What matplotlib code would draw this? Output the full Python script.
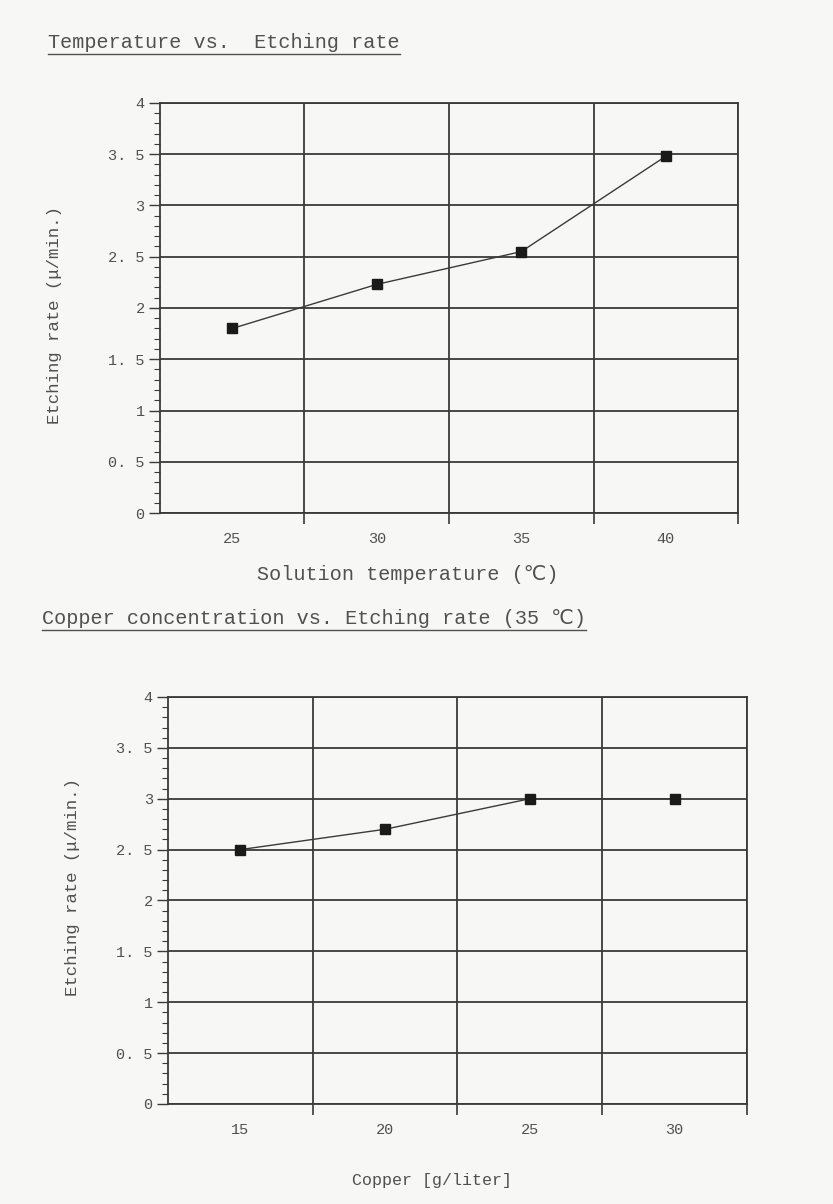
import matplotlib
matplotlib.use("Agg")
import matplotlib.pyplot as plt
from matplotlib.lines import Line2D
from matplotlib.ticker import MultipleLocator, FixedLocator, NullFormatter

# --- data ---
temp_labels = ["25", "30", "35", "40"]
temp_rate = [1.80, 2.23, 2.55, 3.48]

copper_labels = ["15", "20", "25", "30"]
copper_rate = [2.50, 2.70, 3.00, 3.00]

FONT = ["Liberation Mono", "DejaVu Sans Mono", "DejaVu Sans"]
INK = "#3a3a3a"
TEXT = "#505050"
PAPER = "#f7f7f5"

plt.rcParams["font.family"] = FONT


def style_axes(ax, labels, values, xlab_pad):
    x = list(range(len(labels)))
    ax.set_facecolor(PAPER)
    ax.plot(x, values, color=INK, lw=1.0, marker="s", markersize=7,
            markerfacecolor="#1a1a1a", markeredgecolor="#1a1a1a")
    ax.set_xlim(-0.5, len(labels) - 0.5)
    ax.set_ylim(0, 4)

    # category boundaries carry the vertical grid, labels sit in the middle
    ax.xaxis.set_major_locator(FixedLocator([i + 0.5 for i in x]))
    ax.xaxis.set_major_formatter(NullFormatter())
    ax.set_xticks(x, labels, minor=True)
    ax.tick_params(axis="x", which="major", direction="out", length=8,
                   width=1.2, color=INK)
    ax.tick_params(axis="x", which="minor", length=0, pad=xlab_pad,
                   labelsize=11, labelcolor=TEXT)

    ax.yaxis.set_minor_locator(MultipleLocator(0.1))
    ax.set_yticks([i * 0.5 for i in range(9)],
                  ["0", "0. 5", "1", "1. 5", "2", "2. 5", "3", "3. 5", "4"])
    ax.tick_params(axis="y", which="major", direction="out", length=8,
                   width=1.0, color=INK, labelsize=11, labelcolor=TEXT, pad=3)
    ax.tick_params(axis="y", which="minor", direction="out", length=4,
                   width=0.8, color=INK)

    ax.grid(True, which="major", color=INK, lw=1.3)
    ax.set_axisbelow(True)
    for s in ax.spines.values():
        s.set_color(INK)
        s.set_linewidth(1.3)


W, H = 833, 1204
fig = plt.figure(figsize=(8.33, 12.04), dpi=100, facecolor=PAPER)

ax1 = fig.add_axes([0.192, 0.5739, 0.694, 0.3406])
style_axes(ax1, temp_labels, temp_rate, xlab_pad=14)

ax2 = fig.add_axes([0.2017, 0.0831, 0.695, 0.338])
style_axes(ax2, copper_labels, copper_rate, xlab_pad=14)

# titles with an underline, like the typed sheet
titles = [
    ("Temperature vs.  Etching rate", 48, 42),
    ("Copper concentration vs. Etching rate (35 \u2103)", 42, 618),
]
title_texts = []
for txt, px, py in titles:
    t = fig.text(px / W, 1 - py / H, txt, fontsize=14.5, color=TEXT,
                 ha="left", va="center")
    title_texts.append(t)

fig.text(408 / W, 1 - 575 / H, "Solution temperature (\u2103)", fontsize=14.5,
         color=TEXT, ha="center", va="center")
fig.text(432 / W, 1 - 1180 / H, "Copper [g/liter]", fontsize=12,
         color=TEXT, ha="center", va="center")
fig.text(55 / W, 1 - 315 / H, "Etching rate (\u03bc/min.)", fontsize=12.5,
         color=TEXT, ha="center", va="center", rotation=90)
fig.text(72 / W, 1 - 887 / H, "Etching rate (\u03bc/min.)", fontsize=12.5,
         color=TEXT, ha="center", va="center", rotation=90)

fig.canvas.draw()
renderer = fig.canvas.get_renderer()
for t in title_texts:
    bb = t.get_window_extent(renderer).transformed(fig.transFigure.inverted())
    fig.add_artist(Line2D([bb.x0, bb.x1], [bb.y0 - 0.002, bb.y0 - 0.002],
                          transform=fig.transFigure, color=TEXT, lw=1.0))

fig.savefig("out.png", dpi=100, facecolor=PAPER)
